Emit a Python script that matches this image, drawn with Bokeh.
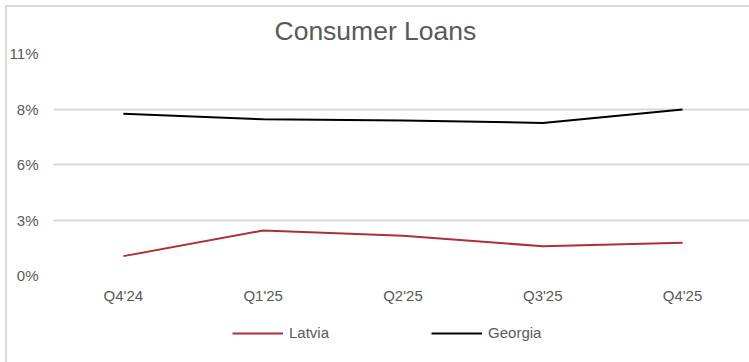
from bokeh.plotting import figure
from bokeh.layouts import column
from bokeh.models import Range1d, FixedTicker, Legend, LegendItem, Title
from bokeh.embed import file_html
from bokeh.resources import INLINE

# ---- data ----
quarters = ["Q4'24", "Q1'25", "Q2'25", "Q3'25", "Q4'25"]
latvia = [0.96, 2.23, 1.97, 1.45, 1.62]
georgia = [8.02, 7.74, 7.68, 7.56, 8.22]
y_ticks = [0, 2.75, 5.5, 8.25, 11]
y_tick_labels = ["0%", "3%", "6%", "8%", "11%"]
series_names = ["Latvia", "Georgia"]
series_colors = ["#AE2F37", "black"]

FONT = "Liberation Sans"
GREY = "#595959"
GRID = "#d9d9d9"

xs = [i + 0.5 for i in range(len(quarters))]

p = figure(width=744, height=305, output_backend="svg", toolbar_location=None,
           x_range=Range1d(0, 4.979), y_range=Range1d(0, 11),
           min_border_left=48, min_border_right=0, min_border_top=48, min_border_bottom=35)
p.outline_line_color = None
p.background_fill_alpha = 0
p.border_fill_alpha = 0

p.add_layout(Title(text="Consumer Loans", text_font=FONT, text_font_size="26.5px",
                   text_color=GREY, text_font_style="normal", align="left", offset=221,
                   standoff=16), "above")

# axes
p.xaxis.ticker = FixedTicker(ticks=xs)
p.xaxis.major_label_overrides = {x: q for x, q in zip(xs, quarters)}
p.yaxis.ticker = FixedTicker(ticks=y_ticks)
p.yaxis.major_label_overrides = {t: l for t, l in zip(y_ticks, y_tick_labels)}
for ax in (p.xaxis, p.yaxis):
    ax.axis_line_color = None
    ax.major_tick_line_color = None
    ax.minor_tick_line_color = None
    ax.major_tick_out = 0
    ax.major_tick_in = 0
    ax.major_label_text_font = FONT
    ax.major_label_text_font_size = "15px"
    ax.major_label_text_color = GREY
p.xaxis.major_label_standoff = 11
p.yaxis.major_label_standoff = 15

p.xgrid.grid_line_color = None
p.ygrid.grid_line_color = GRID
p.ygrid.grid_line_width = 2

r_lat = p.line(xs, latvia, line_color=series_colors[0], line_width=2)
r_geo = p.line(xs, georgia, line_color=series_colors[1], line_width=2)

# legend strip below the chart (its own lines lie outside its visible range)
p2 = figure(width=744, height=52, output_backend="svg", toolbar_location=None,
            x_range=Range1d(0, 1), y_range=Range1d(-2, -1), min_border=0,
            x_axis_location=None, y_axis_location=None)
p2.outline_line_color = None
p2.grid.visible = False
p2.background_fill_alpha = 0
p2.border_fill_alpha = 0
leg_renderers = [p2.line(xs, vals, line_color=c, line_width=2)
                 for vals, c in zip([latvia, georgia], series_colors)]

legend = Legend(items=[LegendItem(label=n, renderers=[r]) for n, r in zip(series_names, leg_renderers)],
                orientation="horizontal", location=(179, 21),
                glyph_width=51, glyph_height=14, label_standoff=6, spacing=102,
                label_text_font=FONT, label_text_font_size="15px", label_text_color=GREY,
                border_line_color=None, background_fill_alpha=0, padding=0, margin=0)
p2.add_layout(legend, "center")

layout = column(p, p2, spacing=0, margin=(5, 0, 0, 5))
layout.styles = {"box-shadow": "inset 2px 2px 0 0 #d9d9d9", "background-color": "white"}

open("out.html", "w").write(file_html(layout, INLINE))
